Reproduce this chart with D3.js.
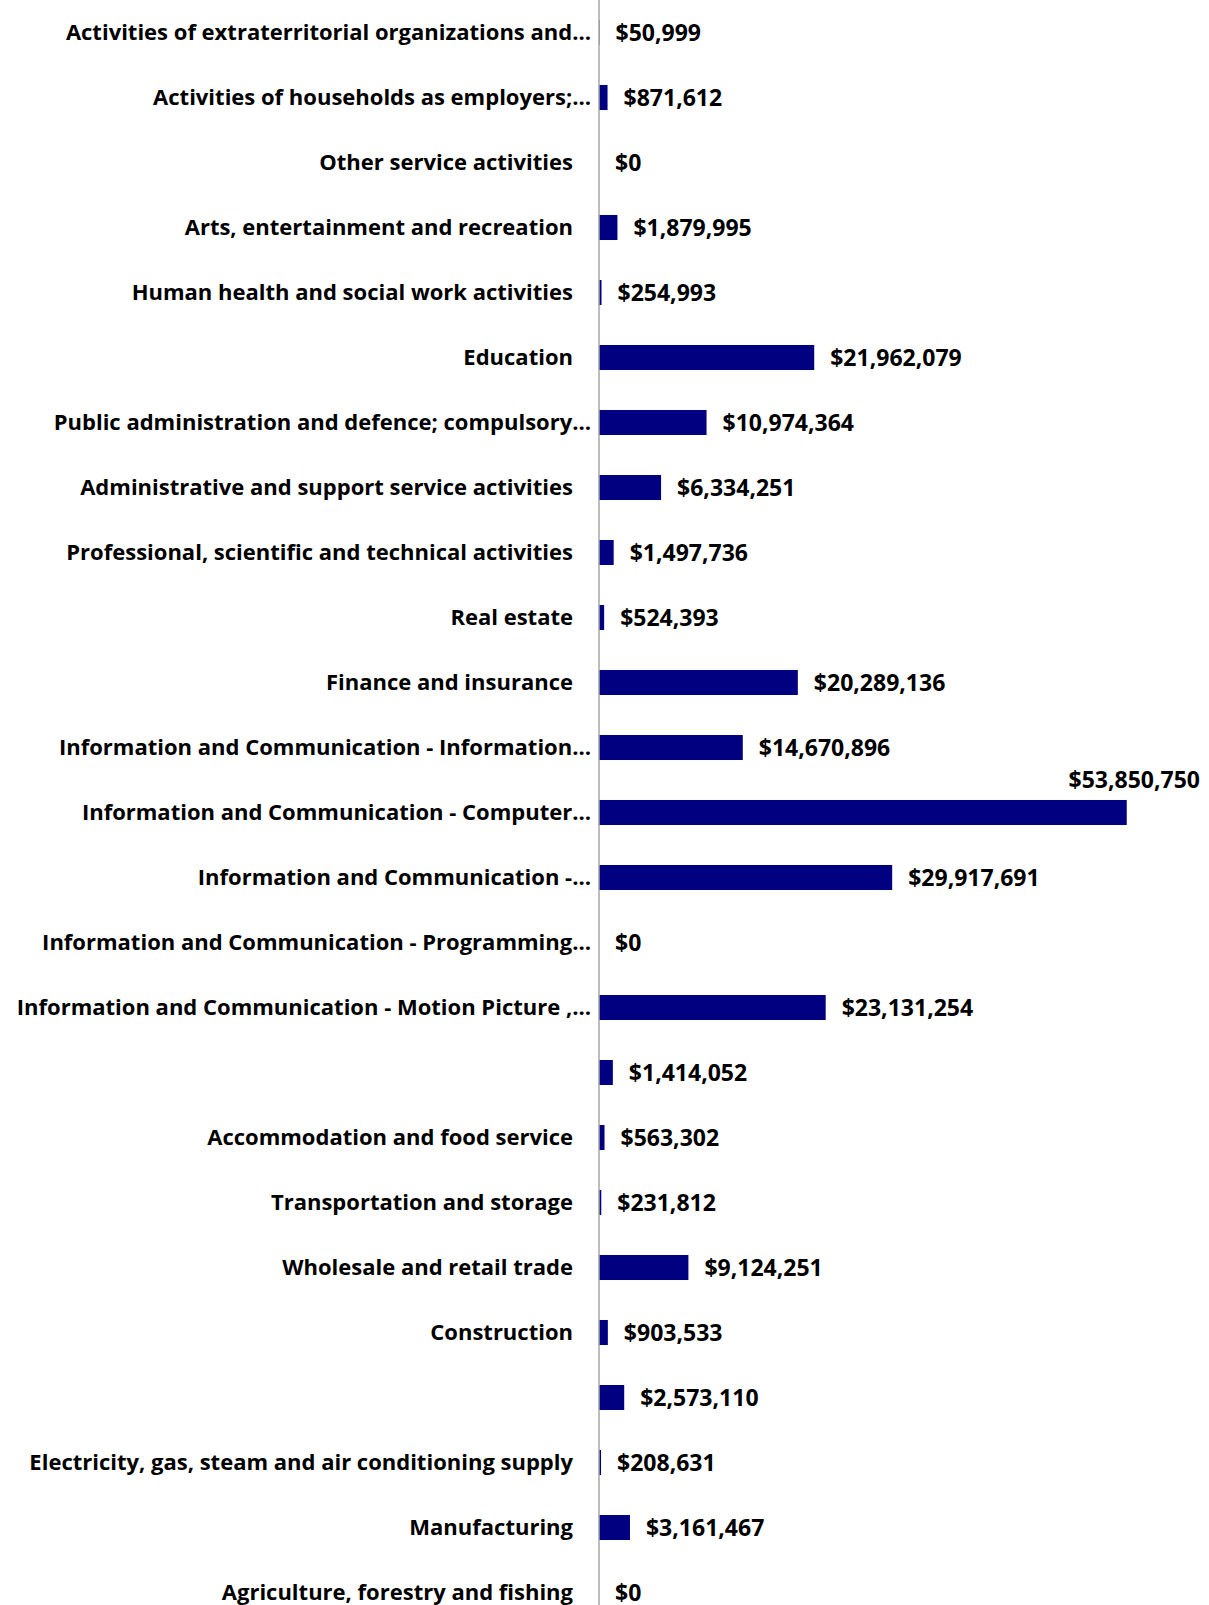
<!DOCTYPE html>
<html>
<head>
<meta charset="utf-8">
<script src="https://cdn.jsdelivr.net/npm/d3@7"></script>
<style>
  html, body { margin: 0; padding: 0; background: #fff; }
  svg text { font-family: "Open Sans", Lato, sans-serif; font-weight: 700; fill: #000; }
</style>
</head>
<body>
<svg id="chart" width="1209" height="1605"></svg>
<script>
const categories = [
  "Activities of extraterritorial organizations and…",
  "Activities of households as employers;…",
  "Other service activities",
  "Arts, entertainment and recreation",
  "Human health and social work activities",
  "Education",
  "Public administration and defence; compulsory…",
  "Administrative and support service activities",
  "Professional, scientific and technical activities",
  "Real estate",
  "Finance and insurance",
  "Information and Communication - Information…",
  "Information and Communication - Computer…",
  "Information and Communication -…",
  "Information and Communication - Programming…",
  "Information and Communication - Motion Picture ,…",
  "",
  "Accommodation and food service",
  "Transportation and storage",
  "Wholesale and retail trade",
  "Construction",
  "",
  "Electricity, gas, steam and air conditioning supply",
  "Manufacturing",
  "Agriculture, forestry and fishing"
];
const values = [
  50999, 871612, 0, 1879995, 254993, 21962079, 10974364, 6334251, 1497736, 524393,
  20289136, 14670896, 53850750, 29917691, 0, 23131254, 1414052, 563302, 231812, 9124251,
  903533, 2573110, 208631, 3161467, 0
];
const xDomainMax = 60000000;

const data = categories.map((c, i) => ({ i, name: c, value: values[i] }));
const svg = d3.select("#chart");

const axisX = 599;
const x = d3.scaleLinear().domain([0, xDomainMax]).range([axisX, axisX + 588]);
const y = d3.scaleBand().domain(data.map(d => d.i)).range([0, 1625]).paddingInner(0.615).paddingOuter(0.3075);

const fmt = v => "$" + d3.format(",")(v);

// bars
svg.append("g").selectAll("rect").data(data).join("rect")
  .attr("x", x(0))
  .attr("y", d => y(d.i))
  .attr("width", d => Math.max(0, x(d.value) - x(0)))
  .attr("height", y.bandwidth())
  .attr("fill", "#000080");

// axis line
svg.append("line")
  .attr("x1", axisX).attr("x2", axisX)
  .attr("y1", 0).attr("y2", 1605)
  .attr("stroke", "#a6a6a6").attr("stroke-width", 1.5);

// category labels
svg.append("g").selectAll("text").data(data).join("text")
  .attr("x", d => d.name.endsWith("…") ? axisX - 8 : axisX - 26)
  .attr("y", d => y(d.i) + y.bandwidth() / 2)
  .attr("dy", "0.36em")
  .attr("text-anchor", "end")
  .attr("font-size", 22)
  .text(d => d.name);

// value labels
const maxV = d3.max(values);
svg.append("g").selectAll("text").data(data).join("text")
  .attr("x", d => d.value === maxV ? 1200 : x(d.value) + 16)
  .attr("y", d => d.value === maxV ? y(d.i) - 20 : y(d.i) + y.bandwidth() / 2)
  .attr("dy", "0.36em")
  .attr("text-anchor", d => d.value === maxV ? "end" : "start")
  .attr("font-size", 23)
  .text(d => fmt(d.value));
</script>
</body>
</html>
